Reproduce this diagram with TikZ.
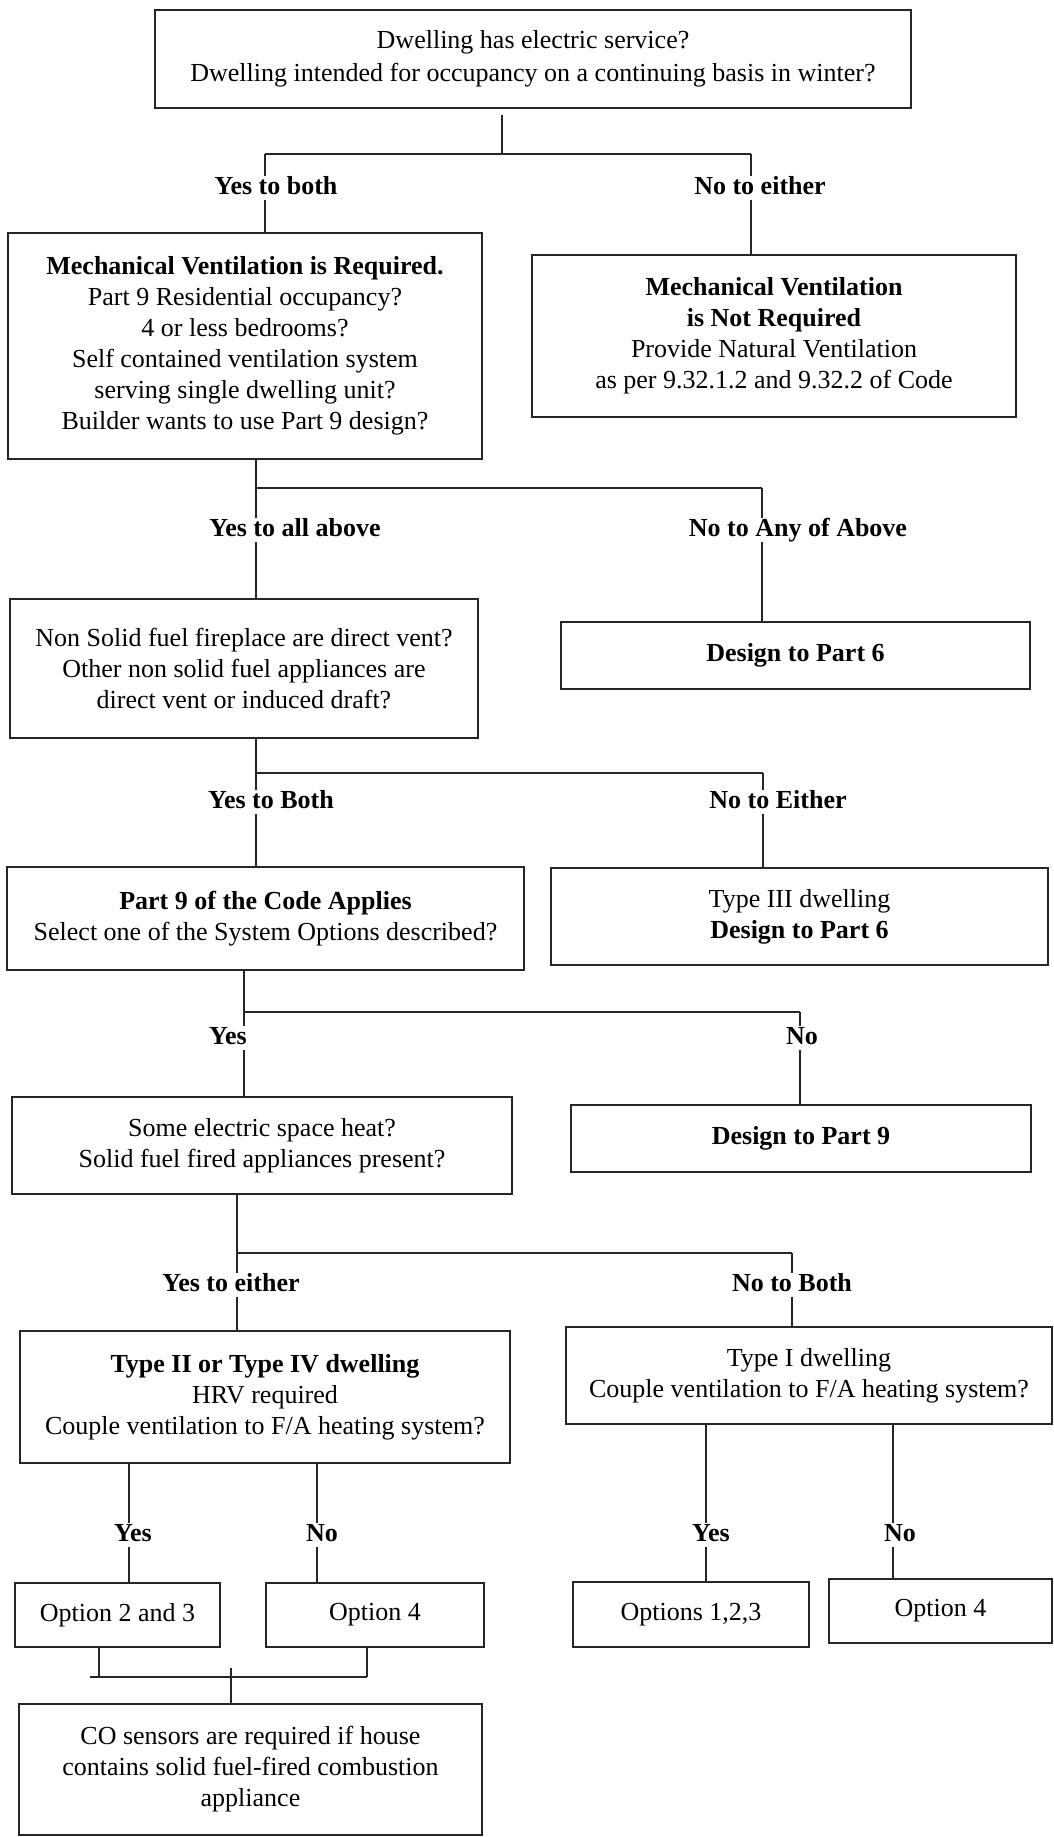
\documentclass[tikz,border=0pt]{standalone}
\usepackage{fontspec}
\setmainfont{Liberation Serif}
\newcommand{\myfs}{\fontsize{26pt}{31pt}\selectfont}
\begin{document}
\begin{tikzpicture}[x=1pt,y=-1pt,
 box/.style={draw=black!85, line width=2.5pt, align=center, inner sep=0pt, font=\myfs},
 lab/.style={font=\myfs\bfseries, inner sep=0pt, text height=18pt, text depth=5pt},
 conn/.style={draw=black!85, line width=2pt}]
\fill[white] (0,0) rectangle (1054,1837);
\useasboundingbox (0,0) rectangle (1054,1837);

% boxes
\node[box, minimum width=756pt, minimum height=98pt] (top) at (533,59) {Dwelling has electric service?\\[2pt]Dwelling intended for occupancy on a continuing basis in winter?};
\node[box, minimum width=474pt, minimum height=226pt] (req) at (245,346) {\textbf{Mechanical Ventilation is Required.}\\Part 9 Residential occupancy?\\4 or less bedrooms?\\Self contained ventilation system\\serving single dwelling unit?\\Builder wants to use Part 9 design?};
\node[box, minimum width=484pt, minimum height=162pt] (notreq) at (774,336) {\textbf{Mechanical Ventilation}\\\textbf{is Not Required}\\Provide Natural Ventilation\\as per 9.32.1.2 and 9.32.2 of Code};
\node[box, minimum width=468pt, minimum height=139pt] (nonsolid) at (244,668.5) {Non Solid fuel fireplace are direct vent?\\Other non solid fuel appliances are\\direct vent or induced draft?};
\node[box, minimum width=469pt, minimum height=67pt] (dp6) at (795.5,655.5) {\textbf{Design to Part 6}};
\node[box, minimum width=517pt, minimum height=103pt] (part9) at (265.5,918.5) {\textbf{Part 9 of the Code Applies}\\Select one of the System Options described?};
\node[box, minimum width=497pt, minimum height=97pt] (type3) at (799.5,916.5) {Type III dwelling\\\textbf{Design to Part 6}};
\node[box, minimum width=500pt, minimum height=97pt] (elec) at (262,1145.5) {Some electric space heat?\\Solid fuel fired appliances present?};
\node[box, minimum width=460pt, minimum height=67pt] (dp9) at (801,1138.5) {\textbf{Design to Part 9}};
\node[box, minimum width=490pt, minimum height=132pt] (type24) at (265,1397) {\textbf{Type II or Type IV dwelling}\\HRV required\\Couple ventilation to F/A heating system?};
\node[box, minimum width=486pt, minimum height=97pt] (type1) at (809,1375.5) {Type I dwelling\\Couple ventilation to F/A heating system?};
\node[box, minimum width=205pt, minimum height=64pt] (opt23) at (117.5,1615) {Option 2 and 3};
\node[box, minimum width=218pt, minimum height=64pt] (opt4a) at (375,1615) {Option 4};
\node[box, minimum width=236pt, minimum height=65pt] (opt123) at (691,1614.5) {Options 1,2,3};
\node[box, minimum width=223pt, minimum height=64pt] (opt4b) at (940.5,1611) {Option 4};
\node[box, minimum width=463pt, minimum height=131pt] (co) at (250.5,1769.5) {CO sensors are required if house\\contains solid fuel-fired combustion\\appliance};

% group 1
\coordinate (g1s) at (502,115);
\coordinate (g1j) at (502,154);
\coordinate (g1l) at (265,154);
\coordinate (g1r) at (751,154);
\node[lab] (l1a) at (276,188) {Yes to both};
\node[lab] (l1b) at (760,188) {No to either};
\draw[conn] (g1s) -- (g1j);
\draw[conn] (g1l) -- (g1r);
\draw[conn] (g1l) -- (g1l |- l1a.north);
\draw[conn] (g1l |- l1a.south) -- (g1l |- req.north);
\draw[conn] (g1r) -- (g1r |- l1b.north);
\draw[conn] (g1r |- l1b.south) -- (g1r |- notreq.north);

% group 2
\coordinate (g2j) at (256,488);
\coordinate (g2r) at (762,488);
\node[lab] (l2a) at (295,530) {Yes to all above};
\node[lab] (l2b) at (798,530) {No to Any of Above};
\draw[conn] (g2j |- req.south) -- (g2j) -- (g2r);
\draw[conn] (g2j) -- (g2j |- l2a.north);
\draw[conn] (g2j |- l2a.south) -- (g2j |- nonsolid.north);
\draw[conn] (g2r) -- (g2r |- l2b.north);
\draw[conn] (g2r |- l2b.south) -- (g2r |- dp6.north);

% group 3
\coordinate (g3j) at (256,773);
\coordinate (g3r) at (763,773);
\node[lab] (l3a) at (271,802) {Yes to Both};
\node[lab] (l3b) at (778,802) {No to Either};
\draw[conn] (g3j |- nonsolid.south) -- (g3j) -- (g3r);
\draw[conn] (g3j) -- (g3j |- l3a.north);
\draw[conn] (g3j |- l3a.south) -- (g3j |- part9.north);
\draw[conn] (g3r) -- (g3r |- l3b.north);
\draw[conn] (g3r |- l3b.south) -- (g3r |- type3.north);

% group 4
\coordinate (g4j) at (244,1012);
\coordinate (g4r) at (800,1012);
\node[lab] (l4a) at (228,1038) {Yes};
\node[lab] (l4b) at (802,1038) {No};
\draw[conn] (g4j |- part9.south) -- (g4j) -- (g4r);
\draw[conn] (g4j) -- (g4j |- l4a.north);
\draw[conn] (g4j |- l4a.south) -- (g4j |- elec.north);
\draw[conn] (g4r) -- (g4r |- l4b.north);
\draw[conn] (g4r |- l4b.south) -- (g4r |- dp9.north);

% group 5
\coordinate (g5j) at (237,1253);
\coordinate (g5r) at (792,1253);
\node[lab] (l5a) at (231,1285) {Yes to either};
\node[lab] (l5b) at (792,1285) {No to Both};
\draw[conn] (g5j |- elec.south) -- (g5j) -- (g5r);
\draw[conn] (g5j) -- (g5j |- l5a.north);
\draw[conn] (g5j |- l5a.south) -- (g5j |- type24.north);
\draw[conn] (g5r) -- (g5r |- l5b.north);
\draw[conn] (g5r |- l5b.south) -- (g5r |- type1.north);

% group 6
\coordinate (g6a) at (129,1535);
\coordinate (g6b) at (317,1535);
\node[lab] (l6a) at (133,1535) {Yes};
\node[lab] (l6b) at (322,1535) {No};
\draw[conn] (g6a |- type24.south) -- (g6a |- l6a.north);
\draw[conn] (g6a |- l6a.south) -- (g6a |- opt23.north);
\draw[conn] (g6b |- type24.south) -- (g6b |- l6b.north);
\draw[conn] (g6b |- l6b.south) -- (g6b |- opt4a.north);

% group 7
\coordinate (g7a) at (706,1535);
\coordinate (g7b) at (893,1535);
\node[lab] (l7a) at (711,1535) {Yes};
\node[lab] (l7b) at (900,1535) {No};
\draw[conn] (g7a |- type1.south) -- (g7a |- l7a.north);
\draw[conn] (g7a |- l7a.south) -- (g7a |- opt123.north);
\draw[conn] (g7b |- type1.south) -- (g7b |- l7b.north);
\draw[conn] (g7b |- l7b.south) -- (g7b |- opt4b.north);

% group 8
\coordinate (g8l) at (90,1677);
\coordinate (g8a) at (99,1677);
\coordinate (g8b) at (367,1677);
\coordinate (g8t) at (231,1668);
\draw[conn] (g8a |- opt23.south) -- (g8a);
\draw[conn] (g8b |- opt4a.south) -- (g8b);
\draw[conn] (g8l) -- (g8b);
\draw[conn] (g8t) -- (g8t |- co.north);
\end{tikzpicture}
\end{document}
